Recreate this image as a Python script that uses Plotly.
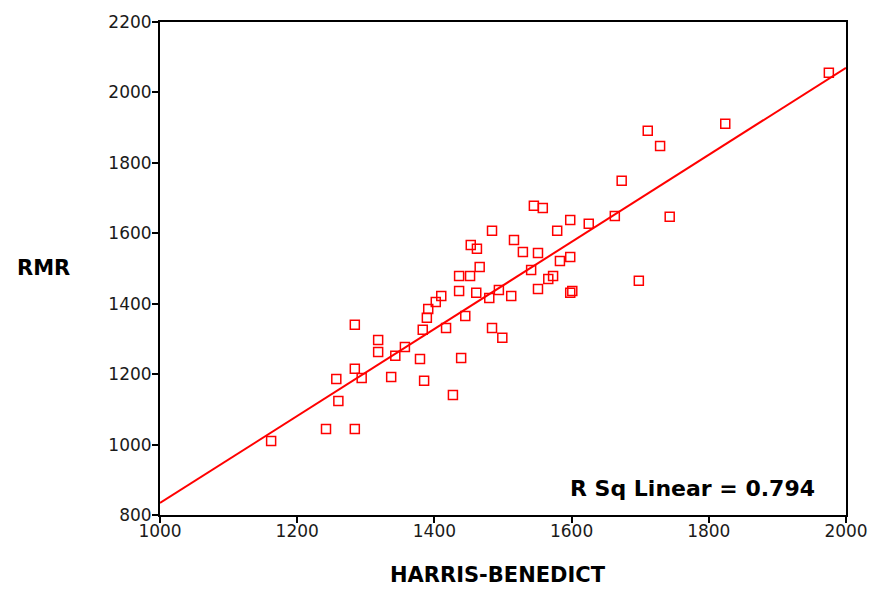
import plotly.graph_objects as go

# Harris-Benedict predicted energy expenditure vs measured resting metabolic rate (kcal/day)
harris_benedict = [
    1162, 1242, 1284, 1257, 1260, 1284, 1294, 1284, 1318, 1318,
    1337, 1343, 1357, 1379, 1383, 1385, 1389, 1391, 1402, 1410,
    1417, 1427, 1436, 1436, 1439, 1445, 1452, 1453, 1462, 1461,
    1466, 1480, 1484, 1484, 1494, 1499, 1512, 1516, 1529, 1541,
    1545, 1551, 1551, 1558, 1566, 1573, 1579, 1583, 1598, 1598,
    1598, 1601, 1625, 1663, 1673, 1698, 1711, 1729, 1743, 1824,
    1975,
]
rmr = [
    1010, 1044, 1044, 1186, 1124, 1215, 1189, 1340, 1297, 1263,
    1192, 1252, 1277, 1243, 1326, 1181, 1360, 1385, 1405, 1422,
    1331, 1141, 1436, 1479, 1246, 1365, 1479, 1567, 1556, 1431,
    1504, 1416, 1607, 1331, 1439, 1303, 1422, 1581, 1547, 1496,
    1678, 1442, 1544, 1672, 1470, 1479, 1607, 1521, 1533, 1638,
    1431, 1436, 1627, 1649, 1749, 1465, 1891, 1848, 1647, 1911,
    2056,
]
# linear fit line, evaluated at the ends of the x range
fit_x = [1000, 2000]
fit_y = [834, 2070]
x_ticks = [1000, 1200, 1400, 1600, 1800, 2000]
y_ticks = [800, 1000, 1200, 1400, 1600, 1800, 2000, 2200]
r_sq_label = "R Sq Linear = 0.794"

fig = go.Figure()
fig.add_trace(go.Scatter(
    x=fit_x, y=fit_y, mode="lines",
    line=dict(color="#ff0000", width=2),
    hoverinfo="skip", showlegend=False,
))
fig.add_trace(go.Scatter(
    x=harris_benedict, y=rmr, mode="markers",
    marker=dict(symbol="square-open", size=9, color="#ff0000",
                line=dict(width=1.5, color="#ff0000")),
    showlegend=False,
))

axis_common = dict(
    showgrid=False, zeroline=False, automargin=False,
    showline=True, linecolor="#000000", linewidth=2, mirror=True,
    ticks="outside", ticklen=6, tickwidth=2, tickcolor="#000000",
    tickfont=dict(family="DejaVu Sans", size=17, color="#1a1a1a"),
)
fig.update_xaxes(range=[1000, 2000], tickvals=x_ticks, ticklabelstandoff=-6, **axis_common)
fig.update_yaxes(range=[800, 2200], tickvals=y_ticks, ticklabelstandoff=-3, **axis_common)

title_font = dict(family="DejaVu Sans", size=21, color="#000000")
fig.add_annotation(
    text="<b>RMR</b>", xref="paper", yref="paper", x=-0.17, y=0.501,
    xanchor="center", yanchor="middle", showarrow=False, font=title_font,
)
fig.add_annotation(
    text="<b>HARRIS-BENEDICT</b>", xref="paper", yref="paper", x=0.493, y=-0.122,
    xanchor="center", yanchor="middle", showarrow=False, font=title_font,
)
fig.add_annotation(
    text=f"<b>{r_sq_label}</b>", xref="paper", yref="paper", x=0.958, y=0.053,
    xanchor="right", yanchor="middle", showarrow=False,
    font=dict(family="DejaVu Sans", size=22, color="#000000"),
)

fig.update_layout(
    width=875, height=590,
    margin=dict(l=160, r=29, t=22, b=75),
    paper_bgcolor="#ffffff", plot_bgcolor="#ffffff",
)
fig.write_html("out.html")
